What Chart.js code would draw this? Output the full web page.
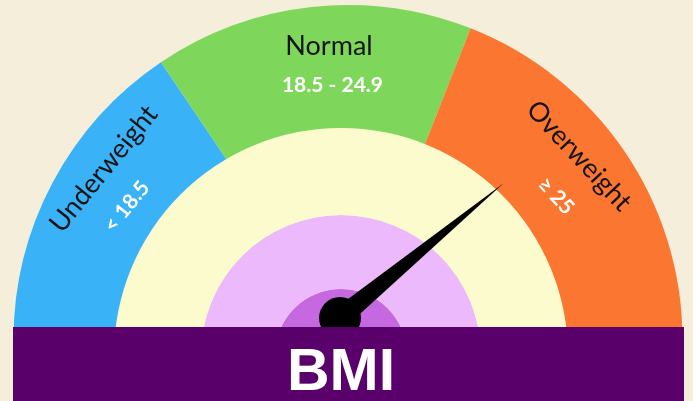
<!DOCTYPE html>
<html>
<head>
<meta charset="utf-8">
<title>BMI gauge</title>
<script src="https://cdn.jsdelivr.net/npm/chart.js@4.4.1/dist/chart.umd.min.js"></script>
<style>
  html, body { margin: 0; padding: 0; background: #f5eedb; }
  #wrap { position: relative; width: 693px; height: 401px; overflow: hidden; }
  .layer { position: absolute; left: 0; top: 0; width: 693px; height: 401px; }
  #bar {
    position: absolute; left: 13px; top: 327px; width: 671px; height: 74px;
    background: #5a006a; overflow: hidden;
  }
  #bar span {
    position: absolute; left: 328px; top: 0; transform: translateX(-50%);
    color: #fff; font: bold 59px "Liberation Sans", Arial, sans-serif;
    line-height: 74px; padding-top: 6px;
  }
</style>
</head>
<body>
<div id="wrap">
  <div class="layer"><canvas id="gauge"></canvas></div>
  <div class="layer"><canvas id="dial"></canvas></div>
  <div id="bar"><span>BMI</span></div>
</div>
<script>
// ==================== DATA ====================
const categories = ['Underweight', 'Normal', 'Overweight'];
const rangeLabels = ['< 18.5', '18.5 - 24.9', '≥ 25'];
const segmentSpans = [56, 55.5, 68.5];   // gauge units, whole gauge = 180
const needleValue = 140.5;

const segmentColors = ['#39b2f8', '#7ed65a', '#fb7630'];

// label placement around the gauge centre (angle in degrees, canvas style)
const labelLayout = [
  { name: { angle: -145.1, r: 298, rot: -51 }, range: { angle: -149, r: 258, rot: -51 } },
  { name: { angle: -93.7, r: 294, rot: 0 }, range: { angle: -93.5, r: 254.5, rot: 0 } },
  { name: { angle: -38.5, r: 295, rot: 47 }, range: { angle: -34.6, r: 252.7, rot: 47 } }
];

const rad = d => d * Math.PI / 180;

// ==================== GAUGE (coloured segments) ====================
const labelPlugin = {
  id: 'segmentLabels',
  afterDatasetsDraw(chart) {
    const arc = chart.getDatasetMeta(0).data[0];
    if (!arc) return;
    const cx = arc.x, cy = arc.y;
    const ctx = chart.ctx;
    ctx.save();
    ctx.textAlign = 'center';
    ctx.textBaseline = 'middle';
    categories.forEach((name, i) => {
      const lay = labelLayout[i];
      [[name, lay.name, '27px Lato, "Open Sans", sans-serif', '#141414'],
       [rangeLabels[i], lay.range, 'bold 21px Lato, "Open Sans", sans-serif', '#ffffff']]
        .forEach(([text, p, font, color]) => {
          ctx.save();
          ctx.translate(cx + p.r * Math.cos(rad(p.angle)), cy + p.r * Math.sin(rad(p.angle)));
          ctx.rotate(rad(p.rot));
          ctx.font = font;
          ctx.fillStyle = color;
          ctx.fillText(text, 0, 0);
          ctx.restore();
        });
    });
    ctx.restore();
  }
};

new Chart(document.getElementById('gauge'), {
  type: 'doughnut',
  data: {
    labels: categories,
    datasets: [{
      data: segmentSpans,
      backgroundColor: segmentColors,
      borderWidth: 0,
      clip: false
    }]
  },
  options: {
    responsive: true,
    maintainAspectRatio: false,
    animation: false,
    events: [],
    rotation: -90,
    circumference: 180,
    cutout: '50%',
    radius: 334.5,
    layout: { padding: { left: 3, right: 0, top: 0, bottom: 56.5 } },
    plugins: { legend: { display: false }, tooltip: { enabled: false } }
  },
  plugins: [labelPlugin]
});

// ==================== DIAL (inner discs + needle) ====================
const needlePlugin = {
  id: 'needle',
  afterDatasetsDraw(chart) {
    const arc = chart.getDatasetMeta(0).data[0];
    if (!arc) return;
    const total = segmentSpans.reduce((s, v) => s + v, 0);
    const angle = -Math.PI + (needleValue / total) * Math.PI;
    const px = arc.x - 1, py = arc.y - 37;   // pivot of the pointer
    const len = 212, half = 10.5;
    const ctx = chart.ctx;
    ctx.save();
    ctx.fillStyle = '#000';
    ctx.beginPath();
    ctx.moveTo(px + half * Math.cos(angle - Math.PI / 2), py + half * Math.sin(angle - Math.PI / 2));
    ctx.lineTo(px + len * Math.cos(angle), py + len * Math.sin(angle));
    ctx.lineTo(px + half * Math.cos(angle + Math.PI / 2), py + half * Math.sin(angle + Math.PI / 2));
    ctx.closePath();
    ctx.fill();
    ctx.beginPath();
    ctx.arc(px, py, 21, 0, Math.PI * 2);
    ctx.fill();
    ctx.restore();
  }
};

new Chart(document.getElementById('dial'), {
  type: 'doughnut',
  data: {
    datasets: [
      { data: [1], backgroundColor: '#fcfbcd', borderWidth: 0, weight: 87, clip: false },
      { data: [1], backgroundColor: '#ebb9fc', borderWidth: 0, weight: 74, clip: false },
      { data: [1], backgroundColor: '#c669e1', borderWidth: 0, weight: 66, clip: false }
    ]
  },
  options: {
    responsive: true,
    maintainAspectRatio: false,
    animation: false,
    events: [],
    rotation: -90,
    circumference: 180,
    cutout: 0,
    radius: 227,
    layout: { padding: { left: 0, right: 11, top: 82, bottom: 0 } },
    plugins: { legend: { display: false }, tooltip: { enabled: false } }
  },
  plugins: [needlePlugin]
});
</script>
</body>
</html>
